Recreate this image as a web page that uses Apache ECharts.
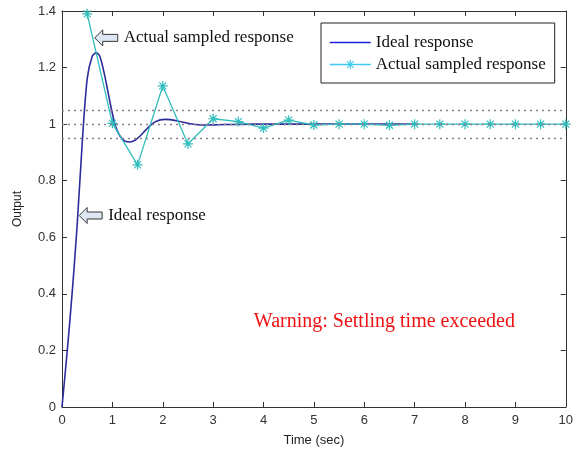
<!DOCTYPE html>
<html>
<head>
<meta charset="utf-8">
<script src="https://cdn.jsdelivr.net/npm/echarts@6/dist/echarts.min.js"></script>
<style>
  html, body { margin: 0; padding: 0; background: #fff; }
  #main { width: 576px; height: 452px; }
</style>
</head>
<body>
<div id="main"></div>
<script>
// 理想响应（连续曲线）
const idealTime = [0, 0.1, 0.2, 0.3, 0.4, 0.5, 0.6, 0.68, 0.75, 0.85, 0.95, 1.05, 1.15, 1.25, 1.35, 1.45, 1.55, 1.65, 1.75, 1.85, 1.95, 2.05, 2.15, 2.3, 2.5, 2.7, 2.9, 3.1, 3.4, 3.8, 4.5, 5.5, 7];
const idealOut = [0, 0.19, 0.4, 0.64, 0.93, 1.16, 1.24, 1.252, 1.24, 1.17, 1.08, 1.0, 0.958, 0.94, 0.937, 0.943, 0.958, 0.977, 0.995, 1.008, 1.015, 1.017, 1.016, 1.011, 1.003, 0.998, 0.997, 0.998, 0.999, 1.0, 1.0, 1.0, 1.0];

// 实际采样响应
const sampledTime = [0.5, 1, 1.5, 2, 2.5, 3, 3.5, 4, 4.5, 5, 5.5, 6, 6.5, 7, 7.5, 8, 8.5, 9, 9.5, 10];
const sampledOut = [1.39, 1.003, 0.856, 1.135, 0.93, 1.019, 1.009, 0.986, 1.014, 0.997, 1.0, 1.0, 0.996, 1.0, 1.0, 1.0, 1.0, 1.0, 1.0, 1.0];

// 稳定带 ±5%
const bandLevels = [0.95, 1.0, 1.05];

const seriesNames = ['Ideal response', 'Actual sampled response'];
const warningText = 'Warning: Settling time exceeded';

const idealColor = '#2b2b9c';
const sampledColor = '#2fbdbd';
const serif = '"Liberation Serif", "Times New Roman", serif';
const sans = '"Liberation Sans", Arial, sans-serif';

// 星号 marker
const asterisk = 'path://M-0.6,-5L0.6,-5L0.6,5L-0.6,5Z M-5,-0.6L5,-0.6L5,0.6L-5,0.6Z M-3.9,-3.1L-3.1,-3.9L3.9,3.1L3.1,3.9Z M3.1,-3.9L3.9,-3.1L-3.1,3.9L-3.9,3.1Z';

const chart = echarts.init(document.getElementById('main'), null, { renderer: 'canvas' });

const axisLineStyle = { color: '#333', width: 1 };
const tickStyle = { inside: true, length: 5, lineStyle: { color: '#333' } };

const option = {
    animation: false,
    backgroundColor: '#fff',
    grid: { left: 62, top: 11, right: 9, bottom: 44 },
    xAxis: [{
        type: 'value', min: 0, max: 10, interval: 1,
        name: 'Time (sec)', nameLocation: 'middle', nameGap: 27,
        nameTextStyle: { fontFamily: sans, fontSize: 13, color: '#222' },
        axisLine: { onZero: false, lineStyle: axisLineStyle },
        axisTick: tickStyle,
        axisLabel: { fontFamily: sans, fontSize: 13, color: '#333', margin: 7 },
        splitLine: { show: false }
    }, {
        type: 'value', min: 0, max: 10, interval: 1, position: 'top',
        axisLine: { show: true, onZero: false, lineStyle: axisLineStyle },
        axisTick: tickStyle,
        axisLabel: { show: false },
        splitLine: { show: false }
    }],
    yAxis: [{
        type: 'value', min: 0, max: 1.4, interval: 0.2,
        name: 'Output', nameLocation: 'middle', nameGap: 38, nameRotate: 90,
        nameTextStyle: { fontFamily: sans, fontSize: 12, color: '#222' },
        axisLine: { show: true, onZero: false, lineStyle: axisLineStyle },
        axisTick: tickStyle,
        axisLabel: { fontFamily: sans, fontSize: 13, color: '#333', margin: 6 },
        splitLine: { show: false }
    }, {
        type: 'value', min: 0, max: 1.4, interval: 0.2, position: 'right',
        axisLine: { show: true, onZero: false, lineStyle: axisLineStyle },
        axisTick: tickStyle,
        axisLabel: { show: false },
        splitLine: { show: false }
    }],
    legend: {
        orient: 'vertical',
        left: 321, top: 23,
        padding: [11, 9, 10, 8],
        itemGap: 5,
        itemWidth: 41, itemHeight: 12,
        borderColor: '#222', borderWidth: 1,
        backgroundColor: '#fff',
        textStyle: { fontFamily: serif, fontSize: 17, color: '#111' },
        data: [
            { name: seriesNames[0], itemStyle: { opacity: 0 }, lineStyle: { color: '#2020dd', width: 1.5 } },
            { name: seriesNames[1], itemStyle: { color: '#40c8f0' }, lineStyle: { color: '#40c8f0', width: 1.5 } }
        ]
    },
    series: [{
        name: seriesNames[0],
        type: 'line',
        data: idealTime.map((t, i) => [t, idealOut[i]]),
        showSymbol: false, symbol: 'none',
        smooth: 0.3,
        color: idealColor,
        lineStyle: { color: idealColor, width: 1.6 },
        z: 3,
        markLine: {
            silent: true, symbol: 'none',
            label: { show: false },
            lineStyle: { type: [2, 4], color: '#8c7f95', width: 1.3 },
            data: bandLevels.map(v => ({ yAxis: v }))
        }
    }, {
        name: seriesNames[1],
        type: 'line',
        data: sampledTime.map((t, i) => [t, sampledOut[i]]),
        symbol: asterisk, symbolSize: 10,
        color: sampledColor,
        itemStyle: { color: sampledColor },
        lineStyle: { color: sampledColor, width: 1.3 },
        z: 4
    }]
};

chart.setOption(option);

// 箭头注释，锚定在数据坐标上
function arrowNote(tip, label) {
    const p = chart.convertToPixel({ gridIndex: 0 }, tip);
    return {
        type: 'group', x: p[0], y: p[1], z: 10,
        children: [{
            type: 'polygon',
            shape: { points: [[0, 0], [8, -8], [8, -3.5], [23, -3.5], [23, 3.5], [8, 3.5], [8, 8]] },
            style: { fill: '#dde7f3', stroke: '#333', lineWidth: 1 }
        }, {
            type: 'text', x: 29, y: 0,
            style: { text: label, font: '17px ' + serif, fill: '#111', verticalAlign: 'middle' }
        }]
    };
}

const mid = chart.convertToPixel({ gridIndex: 0 }, [6.4, 0.3]);
chart.setOption({
    graphic: [
        arrowNote([0.65, 1.305], seriesNames[1]),
        arrowNote([0.34, 0.677], seriesNames[0]),
        {
            type: 'text', x: mid[0], y: mid[1], z: 10,
            style: { text: warningText, font: '20px ' + serif, fill: '#f01010', align: 'center', verticalAlign: 'middle' }
        }
    ]
});
</script>
</body>
</html>
